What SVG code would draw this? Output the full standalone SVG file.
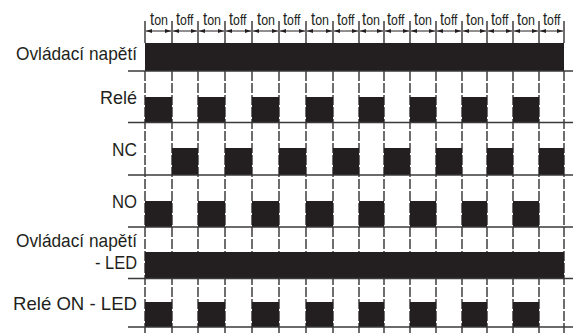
<svg xmlns="http://www.w3.org/2000/svg" width="573" height="333" viewBox="0 0 573 333">
<style>
.lbl{font-family:"Liberation Sans Narrow","Liberation Sans",Arial,sans-serif;font-size:19px;fill:#231f20;text-anchor:end}
.tl{font-family:"Liberation Sans Narrow","Liberation Sans",Arial,sans-serif;fill:#231f20}
.grid{stroke:#231f20;stroke-width:1.3;stroke-dasharray:10 2;fill:none}
.tick{stroke:#231f20;stroke-width:1.3;fill:none}
.base{stroke:#3a3a3a;stroke-width:1.3;fill:none}
.blk{fill:#231f20}
.ax{stroke:#231f20;stroke-width:1;fill:none;marker-start:url(#ah);marker-end:url(#ah)}
</style>
<defs>
<marker id="ah" viewBox="0 0 6 4" refX="6" refY="2" markerWidth="6" markerHeight="4" markerUnits="userSpaceOnUse" orient="auto-start-reverse">
<path d="M0,0 L6,2 L0,4 z" fill="#231f20"/>
</marker>
</defs>
<g id="grid">
<path class="tick" d="M145,21V43M172,21V43M198,21V43M225,21V43M252,21V43M279,21V43M306,21V43M333,21V43M359,21V43M384,21V43M410,21V43M436,21V43M462,21V43M487,21V43M513,21V43M539,21V43M564,21V43"/>
<path class="grid" d="M145,71V333M172,71V333M198,71V333M225,71V333M252,71V333M279,71V333M306,71V333M333,71V333M359,71V333M384,71V333M410,71V333M436,71V333M462,71V333M487,71V333M513,71V333M539,71V333M564,71V333"/>
</g>
<g id="connectors">
<path class="ax" d="M146,31H171"/><path class="ax" d="M173,31H197"/><path class="ax" d="M199,31H224"/><path class="ax" d="M226,31H251"/>
<path class="ax" d="M253,31H278"/><path class="ax" d="M280,31H305"/><path class="ax" d="M307,31H332"/><path class="ax" d="M334,31H358"/>
<path class="ax" d="M360,31H383"/><path class="ax" d="M385,31H409"/><path class="ax" d="M411,31H435"/><path class="ax" d="M437,31H461"/>
<path class="ax" d="M463,31H486"/><path class="ax" d="M488,31H512"/><path class="ax" d="M514,31H538"/><path class="ax" d="M540,31H563"/>
</g>
<g id="time-labels">
<text class="tl" x="150" y="25" textLength="18" lengthAdjust="spacingAndGlyphs"><tspan font-size="18">t</tspan><tspan font-size="15">on</tspan></text>
<text class="tl" x="176" y="25" textLength="17.5" lengthAdjust="spacingAndGlyphs"><tspan font-size="18">t</tspan><tspan font-size="15">off</tspan></text>
<text class="tl" x="203" y="25" textLength="18" lengthAdjust="spacingAndGlyphs"><tspan font-size="18">t</tspan><tspan font-size="15">on</tspan></text>
<text class="tl" x="229" y="25" textLength="17.5" lengthAdjust="spacingAndGlyphs"><tspan font-size="18">t</tspan><tspan font-size="15">off</tspan></text>
<text class="tl" x="257" y="25" textLength="18" lengthAdjust="spacingAndGlyphs"><tspan font-size="18">t</tspan><tspan font-size="15">on</tspan></text>
<text class="tl" x="283" y="25" textLength="17.5" lengthAdjust="spacingAndGlyphs"><tspan font-size="18">t</tspan><tspan font-size="15">off</tspan></text>
<text class="tl" x="311" y="25" textLength="18" lengthAdjust="spacingAndGlyphs"><tspan font-size="18">t</tspan><tspan font-size="15">on</tspan></text>
<text class="tl" x="337" y="25" textLength="17.5" lengthAdjust="spacingAndGlyphs"><tspan font-size="18">t</tspan><tspan font-size="15">off</tspan></text>
<text class="tl" x="362" y="25" textLength="18" lengthAdjust="spacingAndGlyphs"><tspan font-size="18">t</tspan><tspan font-size="15">on</tspan></text>
<text class="tl" x="387" y="25" textLength="17.5" lengthAdjust="spacingAndGlyphs"><tspan font-size="18">t</tspan><tspan font-size="15">off</tspan></text>
<text class="tl" x="414" y="25" textLength="18" lengthAdjust="spacingAndGlyphs"><tspan font-size="18">t</tspan><tspan font-size="15">on</tspan></text>
<text class="tl" x="440" y="25" textLength="17.5" lengthAdjust="spacingAndGlyphs"><tspan font-size="18">t</tspan><tspan font-size="15">off</tspan></text>
<text class="tl" x="466" y="25" textLength="18" lengthAdjust="spacingAndGlyphs"><tspan font-size="18">t</tspan><tspan font-size="15">on</tspan></text>
<text class="tl" x="491" y="25" textLength="17.5" lengthAdjust="spacingAndGlyphs"><tspan font-size="18">t</tspan><tspan font-size="15">off</tspan></text>
<text class="tl" x="517" y="25" textLength="18" lengthAdjust="spacingAndGlyphs"><tspan font-size="18">t</tspan><tspan font-size="15">on</tspan></text>
<text class="tl" x="543" y="25" textLength="17.5" lengthAdjust="spacingAndGlyphs"><tspan font-size="18">t</tspan><tspan font-size="15">off</tspan></text>
</g>
<g id="row-ovladaci">
<text class="lbl" x="137" y="60" textLength="121" lengthAdjust="spacingAndGlyphs">Ovládací napětí</text>
<rect class="blk" x="145" y="43" width="419" height="28"/>
<path class="base" d="M128,71H573"/>
</g>
<g id="row-rele">
<text class="lbl" x="137" y="104" textLength="37" lengthAdjust="spacingAndGlyphs">Relé</text>
<path class="blk" d="M145,97h27v25h-27zM198,97h27v25h-27zM252,97h27v25h-27zM306,97h27v25h-27zM359,97h25v25h-25zM410,97h26v25h-26zM462,97h25v25h-25zM513,97h26v25h-26z"/>
<path class="base" d="M128,122.5H573"/>
</g>
<g id="row-nc">
<text class="lbl" x="137" y="156" textLength="25" lengthAdjust="spacingAndGlyphs">NC</text>
<path class="blk" d="M172,148h26v27h-26zM225,148h27v27h-27zM279,148h27v27h-27zM333,148h26v27h-26zM384,148h26v27h-26zM436,148h26v27h-26zM487,148h26v27h-26zM539,148h25v27h-25z"/>
<path class="base" d="M128,175H573"/>
</g>
<g id="row-no">
<text class="lbl" x="137" y="207.5" textLength="25" lengthAdjust="spacingAndGlyphs">NO</text>
<path class="blk" d="M145,201h27v26h-27zM198,201h27v26h-27zM252,201h27v26h-27zM306,201h27v26h-27zM359,201h25v26h-25zM410,201h26v26h-26zM462,201h25v26h-25zM513,201h26v26h-26z"/>
<path class="base" d="M128,227H573"/>
</g>
<g id="row-ovladaci-led">
<text class="lbl" x="137" y="246.5" textLength="121" lengthAdjust="spacingAndGlyphs">Ovládací napětí</text>
<text class="lbl" x="137" y="268.5" textLength="42" lengthAdjust="spacingAndGlyphs">- LED</text>
<rect class="blk" x="145" y="252" width="419" height="26"/>
<path class="base" d="M128,278.5H573"/>
</g>
<g id="row-rele-led">
<text class="lbl" x="137" y="309.5" textLength="124" lengthAdjust="spacingAndGlyphs">Relé ON - LED</text>
<path class="blk" d="M145,302h27v25h-27zM198,302h27v25h-27zM252,302h27v25h-27zM306,302h27v25h-27zM359,302h25v25h-25zM410,302h26v25h-26zM462,302h25v25h-25zM513,302h26v25h-26z"/>
<path class="base" d="M128,327H573"/>
</g>
</svg>
